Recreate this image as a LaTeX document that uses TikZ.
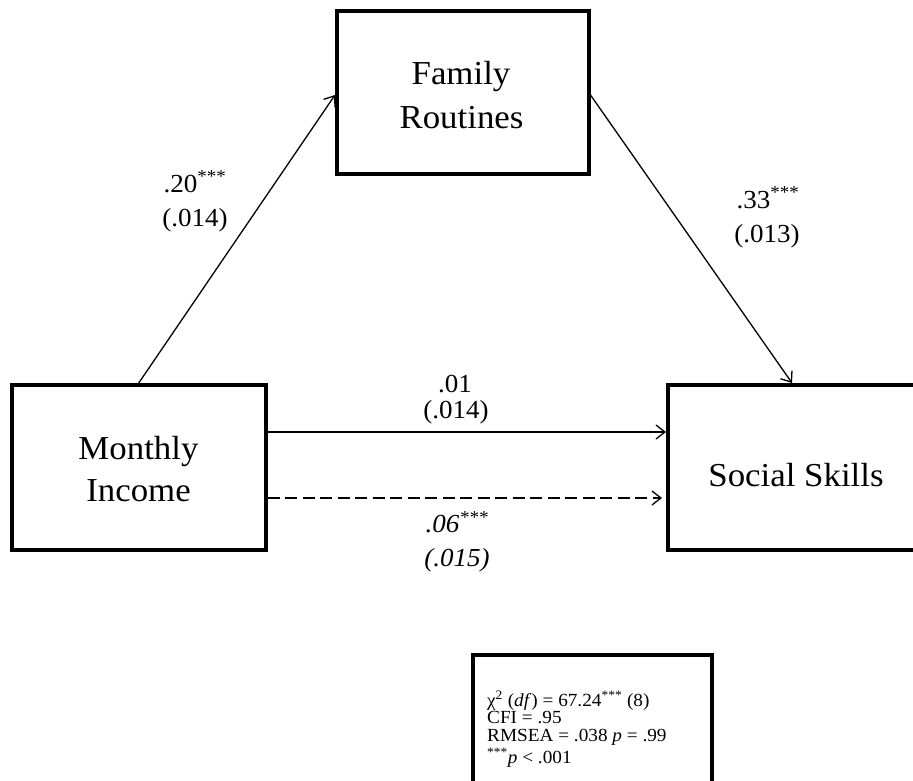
\documentclass[tikz,border=0pt]{standalone}
\usepackage{fontspec}
\setmainfont{Liberation Serif}[FakeStretch=1.04]
\usetikzlibrary{arrows.meta,calc}
\begin{document}
\begin{tikzpicture}[x=1pt,y=-1pt,
  varbox/.style={draw=black, line width=4pt, rectangle, inner sep=0pt},
  vartext/.style={font=\fontsize{33.5}{38}\selectfont, inner sep=0pt, anchor=base},
  coef/.style={font=\fontsize{26}{30}\selectfont, inner sep=0pt, anchor=base},
  pathline/.style={line width=1.3pt, -{Straight Barb[length=9pt,width=14pt,line width=1.3pt]}},
  fitbox/.style={draw=black, line width=3.3pt, rectangle, inner sep=0pt},
  fittext/.style={font=\fontsize{18.5}{19}\selectfont, inner sep=0pt, anchor=base west}]
\useasboundingbox (0,0) rectangle (913,781);
\clip (0,0) rectangle (913,781);
\fill[white] (0,0) rectangle (913,781);

% boxes
\node[varbox, minimum width=251.5pt, minimum height=163.5pt] (fr) at (462.75,92.5) {};
\node[varbox, minimum width=253.5pt, minimum height=164.7pt] (mi) at (138.75,467.35) {};
\node[varbox, minimum width=257pt, minimum height=164.7pt] (ss) at (796.5,467.35) {};

% box texts
\node[vartext] (frt1) at (461,85) {Family};
\node[vartext] (frt2) at (461.5,128.3) {Routines};
\node[vartext] (mit1) at (138.5,459.3) {Monthly};
\node[vartext] (mit2) at (138.5,501.7) {Income};
\node[vartext] (sst) at (796,486.5) {Social Skills};

% paths
\draw[pathline] (mi.north) -- ([yshift=-2.5pt]fr.west);
\draw[pathline] ([yshift=-2.5pt]fr.east) -- ([xshift=-4.5pt]ss.north);
\draw[pathline] ([yshift=35.35pt]mi.east) -- ([yshift=35.35pt]ss.west);
\draw[pathline, dash pattern=on 12pt off 5.5pt, shorten >=4pt] ([yshift=-30.65pt]mi.east) -- ([yshift=-30.65pt]ss.west);

% coefficients
\node[coef] (c1a) at (195,192) {.20\textsuperscript{***}};
\node[coef] (c1b) at (195,226) {(.014)};
\node[coef] (c2a) at (768,208) {.33\textsuperscript{***}};
\node[coef] (c2b) at (767,242) {(.013)};
\node[coef] (c3a) at (455,392) {.01};
\node[coef] (c3b) at (456,418) {(.014)};
\node[coef] (c4a) at (457,532.5) {\itshape .06\textsuperscript{***}};
\node[coef] (c4b) at (457,566) {\itshape (.015)};

% fit box
\node[fitbox, minimum width=239pt, minimum height=175pt] (fit) at (592.5,742.5) {};
\node[fittext] (f1) at (487,706) {χ\textsuperscript{2} (\textit{df}) = 67.24\textsuperscript{***} (8)};
\node[fittext] (f2) at (487,723) {CFI = .95};
\node[fittext] (f3) at (487,741.5) {RMSEA = .038 \textit{p} = .99};
\node[fittext] (f4) at (487,763) {\textsuperscript{***}\textit{p} < .001};
\end{tikzpicture}
\end{document}
